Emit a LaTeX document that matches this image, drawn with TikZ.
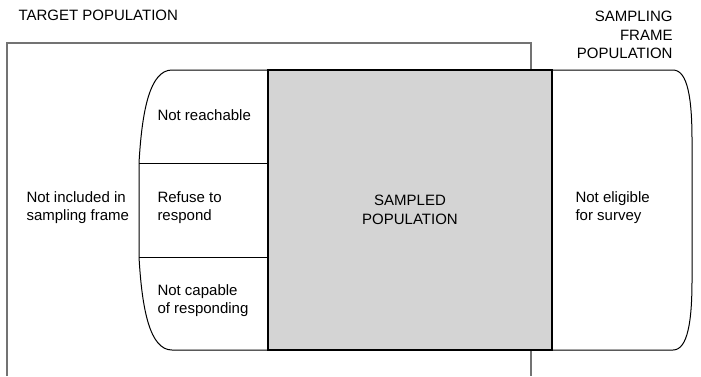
\documentclass[tikz,border=0pt]{standalone}
\usepackage{fontspec}
\setmainfont{Liberation Sans}
\usetikzlibrary{positioning}

\begin{document}
\begin{tikzpicture}[x=1pt, y=-1pt, line width=1pt,
    every node/.style={font=\fontsize{15}{18.5}\selectfont, inner sep=0pt},
    label/.style={anchor=north west, align=left},
    targetline/.style={draw=black!55, line width=1.4pt},
    framearea/.style={draw=black, line width=1pt},
    sampledbox/.style={draw=black, line width=2pt, fill=black!17,
        minimum width=284pt, minimum height=280pt, align=center}]
    \useasboundingbox (0,0) rectangle (701,376);

    % target population, open at the bottom
    \draw[targetline] (7,376) -- (7,43) -- (531,43) -- (531,376);
    \node[label] (target) at (18,10) {TARGET POPULATION};

    % sampling frame population
    \draw[framearea] (172,70) -- (673,70)
        .. controls (688,70) and (692,100) .. (692,140) -- (692,280)
        .. controls (692,320) and (688,350) .. (673,350) -- (172,350)
        .. controls (150,350) and (142,310) .. (139,257) -- (139,163)
        .. controls (142,110) and (150,70) .. (172,70) -- cycle;
    \node[anchor=north east, align=right] (frame) at (673,11) {SAMPLING\\FRAME\\POPULATION};

    \node[sampledbox] (sampled) at (410,210) {SAMPLED\\POPULATION};

    \coordinate (cut1) at (139,163);
    \coordinate (cut2) at (139,257);
    \draw (cut1) -- (cut1 -| sampled.west);
    \draw (cut2) -- (cut2 -| sampled.west);

    \node[label] (notreach) at (157,109) {Not reachable};
    \node[label] (refuse) at (157,191) {Refuse to\\respond};
    \node[label] (notcapable) at (157,284) {Not capable\\of responding};
    \node[label] (notincl) at (26,191) {Not included in\\sampling frame};
    \node[label] (noteligible) at (575,191) {Not eligible\\for survey};
\end{tikzpicture}
\end{document}
